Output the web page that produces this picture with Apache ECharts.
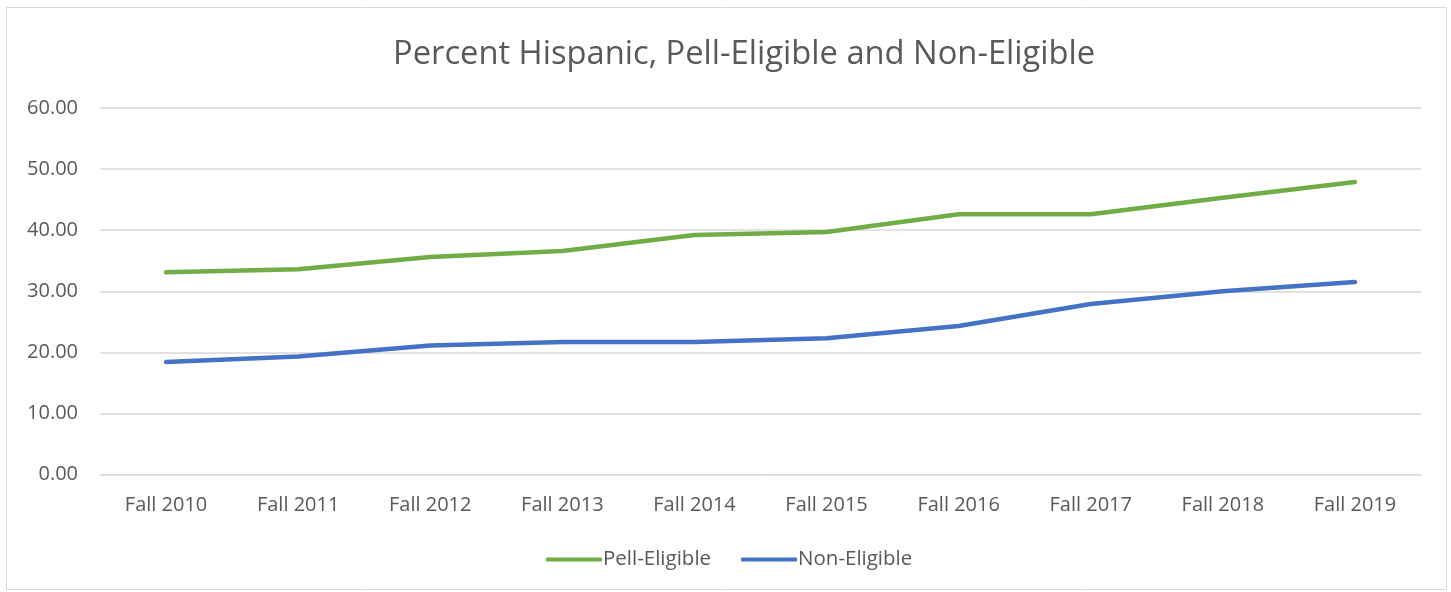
<!DOCTYPE html>
<html><head><meta charset="utf-8">
<script src="https://cdn.jsdelivr.net/npm/echarts@6/dist/echarts.min.js"></script>
<style>html,body{margin:0;padding:0;background:#fff}#c{width:1451px;height:592px}</style>
</head><body><div id="c"></div>
<script>
const categories = ['Fall 2010','Fall 2011','Fall 2012','Fall 2013','Fall 2014','Fall 2015','Fall 2016','Fall 2017','Fall 2018','Fall 2019'];
const pellEligible = [33.1, 33.6, 35.6, 36.6, 39.2, 39.7, 42.6, 42.6, 45.3, 47.9];
const nonEligible = [18.4, 19.3, 21.1, 21.7, 21.7, 22.3, 24.3, 27.9, 30.0, 31.5];
const titleText = 'Percent Hispanic, Pell-Eligible and Non-Eligible';

const chart = echarts.init(document.getElementById('c'), null, {renderer:'canvas'});
const font = "'Open Sans', 'Liberation Sans', sans-serif";
chart.setOption({
  animation:false,
  backgroundColor:'#fff',
  graphic:[{type:'rect',shape:{x:6.5,y:7.5,width:1440,height:582},style:{fill:'none',stroke:'#D9D9D9',lineWidth:1},silent:true}],
  title:{text:titleText,left:388,top:33,textStyle:{fontFamily:font,fontWeight:'normal',fontSize:32.7,color:'#595959'}},
  legend:{left:541,bottom:17,itemGap:30,itemWidth:56,itemHeight:4,icon:'roundRect',
    textStyle:{fontFamily:font,fontSize:20.5,color:'#595959',padding:[0,0,0,-4]},
    data:['Pell-Eligible','Non-Eligible']},
  grid:{left:100,right:30,top:108,bottom:117.5,containLabel:false},
  xAxis:{type:'category',data:categories,boundaryGap:true,
    axisLine:{lineStyle:{color:'#D9D9D9',width:1}},axisTick:{show:false},
    axisLabel:{fontFamily:font,fontSize:20,color:'#595959',margin:21}},
  yAxis:{type:'value',min:0,max:60,interval:10,
    axisLine:{show:false},axisTick:{show:false},
    splitLine:{lineStyle:{color:'#D9D9D9',width:1.5}},
    axisLabel:{fontFamily:font,fontSize:20,color:'#595959',margin:22,formatter:v=>v.toFixed(2)}},
  series:[
    {name:'Pell-Eligible',type:'line',data:pellEligible,showSymbol:false,symbol:'none',
      lineStyle:{color:'#70AD47',width:4.5,cap:'round',join:'round'},itemStyle:{color:'#70AD47'}},
    {name:'Non-Eligible',type:'line',data:nonEligible,showSymbol:false,symbol:'none',
      lineStyle:{color:'#4472C4',width:4.5,cap:'round',join:'round'},itemStyle:{color:'#4472C4'}}
  ]
});
</script></body></html>
